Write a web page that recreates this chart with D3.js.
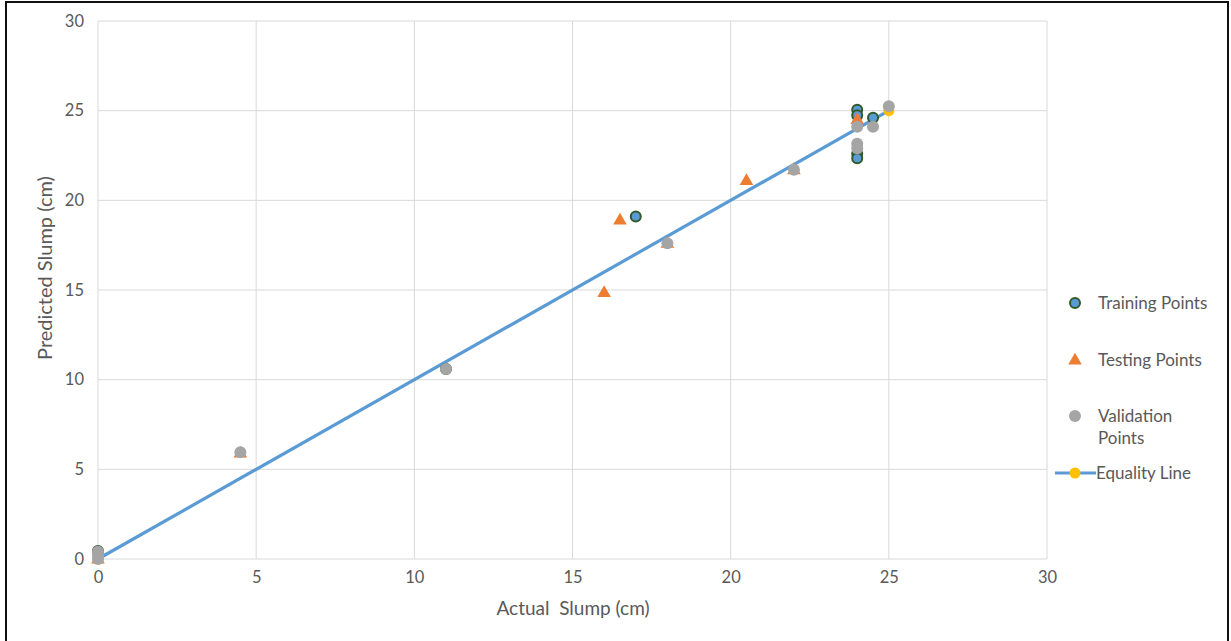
<!DOCTYPE html>
<html>
<head>
<meta charset="utf-8">
<script src="https://cdn.jsdelivr.net/npm/d3@7"></script>
<style>
  html, body { margin: 0; padding: 0; background: #fff; }
  svg { display: block; }
  text { font-family: Lato, "Open Sans", sans-serif; fill: #595959; }
</style>
</head>
<body>
<svg id="chart" width="1231" height="641"></svg>
<script>
// Actual vs predicted slump (cm)
const xTicks = [0, 5, 10, 15, 20, 25, 30];
const yTicks = [0, 5, 10, 15, 20, 25, 30];

const trainingActual    = [0, 11, 17, 24, 24, 24, 24, 24.5];
const trainingPredicted = [0.45, 10.6, 19.1, 25.05, 24.75, 22.6, 22.35, 24.6];

const testingActual    = [0, 4.5, 16, 16.5, 18, 20.5, 22, 24];
const testingPredicted = [0, 5.9, 14.85, 18.9, 17.6, 21.1, 21.7, 24.5];

const validationActual    = [0, 0, 0, 4.5, 11, 18, 22, 24, 24, 24, 24.5, 25];
const validationPredicted = [0.4, 0.2, 0, 5.95, 10.6, 17.6, 21.7, 24.1, 23.15, 22.9, 24.1, 25.25];

const equalityActual    = [0, 25];
const equalityPredicted = [0, 25];

const legendLabels = ["Training Points", "Testing Points", ["Validation", "Points"], "Equality Line"];

(function draw() {
  const svg = d3.select("#chart");

  // page frame
  svg.append("rect").attr("x", 6).attr("y", 2).attr("width", 1222).attr("height", 645)
    .attr("fill", "none").attr("stroke", "#111").attr("stroke-width", 2);

  const plotLeft = 98, plotRight = 1047, plotTop = 21, plotBottom = 559;
  const x = d3.scaleLinear().domain([0, 30]).range([plotLeft, plotRight]);
  const y = d3.scaleLinear().domain([0, 30]).range([plotBottom, plotTop]);

  // gridlines
  svg.append("g").selectAll("line").data(xTicks).join("line")
    .attr("x1", d => x(d)).attr("x2", d => x(d)).attr("y1", plotTop).attr("y2", plotBottom)
    .attr("stroke", "#d9d9d9").attr("stroke-width", 1);
  svg.append("g").selectAll("line").data(yTicks).join("line")
    .attr("y1", d => y(d)).attr("y2", d => y(d)).attr("x1", plotLeft).attr("x2", plotRight)
    .attr("stroke", "#d9d9d9").attr("stroke-width", 1);

  // axes (labels only)
  const xAxis = svg.append("g").attr("transform", `translate(0,${plotBottom})`)
    .call(d3.axisBottom(x).tickValues(xTicks).tickSize(0).tickPadding(12));
  xAxis.select(".domain").remove();
  xAxis.selectAll("text").attr("font-size", 16.5).attr("fill", "#595959")
    .style("font-family", "Lato, sans-serif");

  const yAxis = svg.append("g").attr("transform", `translate(${plotLeft},0)`)
    .call(d3.axisLeft(y).tickValues(yTicks).tickSize(0).tickPadding(14));
  yAxis.select(".domain").remove();
  yAxis.selectAll("text").attr("font-size", 16.5).attr("fill", "#595959")
    .style("font-family", "Lato, sans-serif");

  // axis titles
  svg.append("text").attr("x", 573).attr("y", 615)
    .attr("text-anchor", "middle").attr("font-size", 19)
    .style("white-space", "pre")
    .text("Actual  Slump (cm)");
  svg.append("text")
    .attr("transform", `translate(52,268) rotate(-90)`)
    .attr("text-anchor", "middle").attr("font-size", 20)
    .text("Predicted Slump (cm)");

  const blue = "#5b9bd5", green = "#2f5a2a", orange = "#ed7d31", gray = "#a5a5a5", yellow = "#ffc000";

  // equality line
  const line = d3.line().x(d => x(d[0])).y(d => y(d[1]));
  const eq = d3.zip(equalityActual, equalityPredicted);
  svg.append("path").datum(eq).attr("d", line)
    .attr("fill", "none").attr("stroke", blue).attr("stroke-width", 3.2);
  svg.append("g").selectAll("circle").data(eq).join("circle")
    .attr("cx", d => x(d[0])).attr("cy", d => y(d[1])).attr("r", 5.5).attr("fill", yellow);

  // training points
  svg.append("g").selectAll("circle").data(d3.zip(trainingActual, trainingPredicted)).join("circle")
    .attr("cx", d => x(d[0])).attr("cy", d => y(d[1])).attr("r", 5)
    .attr("fill", blue).attr("stroke", green).attr("stroke-width", 2);

  // testing points
  const tri = d3.symbol().type(d3.symbolTriangle).size(80);
  svg.append("g").selectAll("path").data(d3.zip(testingActual, testingPredicted)).join("path")
    .attr("d", tri).attr("transform", d => `translate(${x(d[0])},${y(d[1]) + 0.5})`)
    .attr("fill", orange);

  // validation points
  svg.append("g").selectAll("circle").data(d3.zip(validationActual, validationPredicted)).join("circle")
    .attr("cx", d => x(d[0])).attr("cy", d => y(d[1])).attr("r", 6)
    .attr("fill", gray);

  // legend
  const lg = svg.append("g");
  const lx = 1075, tx = 1098;
  const ly = [303, 360, 416, 473];
  lg.append("circle").attr("cx", lx).attr("cy", ly[0]).attr("r", 5)
    .attr("fill", blue).attr("stroke", green).attr("stroke-width", 2);
  lg.append("path").attr("d", tri).attr("transform", `translate(${lx},${ly[1] + 0.5})`).attr("fill", orange);
  lg.append("circle").attr("cx", lx).attr("cy", ly[2]).attr("r", 6).attr("fill", gray);
  lg.append("line").attr("x1", 1055).attr("x2", 1096).attr("y1", ly[3]).attr("y2", ly[3])
    .attr("stroke", blue).attr("stroke-width", 3.2);
  lg.append("circle").attr("cx", lx).attr("cy", ly[3]).attr("r", 5.5).attr("fill", yellow);

  const fs = 17;
  lg.append("text").attr("x", tx).attr("y", ly[0]).attr("dy", "0.35em").attr("font-size", fs).text(legendLabels[0]);
  lg.append("text").attr("x", tx).attr("y", ly[1]).attr("dy", "0.35em").attr("font-size", fs).text(legendLabels[1]);
  lg.append("text").attr("x", tx).attr("y", ly[2]).attr("dy", "0.35em").attr("font-size", fs).text(legendLabels[2][0]);
  lg.append("text").attr("x", tx).attr("y", ly[2] + 22).attr("dy", "0.35em").attr("font-size", fs).text(legendLabels[2][1]);
  lg.append("text").attr("x", tx - 2).attr("y", ly[3]).attr("dy", "0.35em").attr("font-size", fs).text(legendLabels[3]);
})();
</script>
</body>
</html>
